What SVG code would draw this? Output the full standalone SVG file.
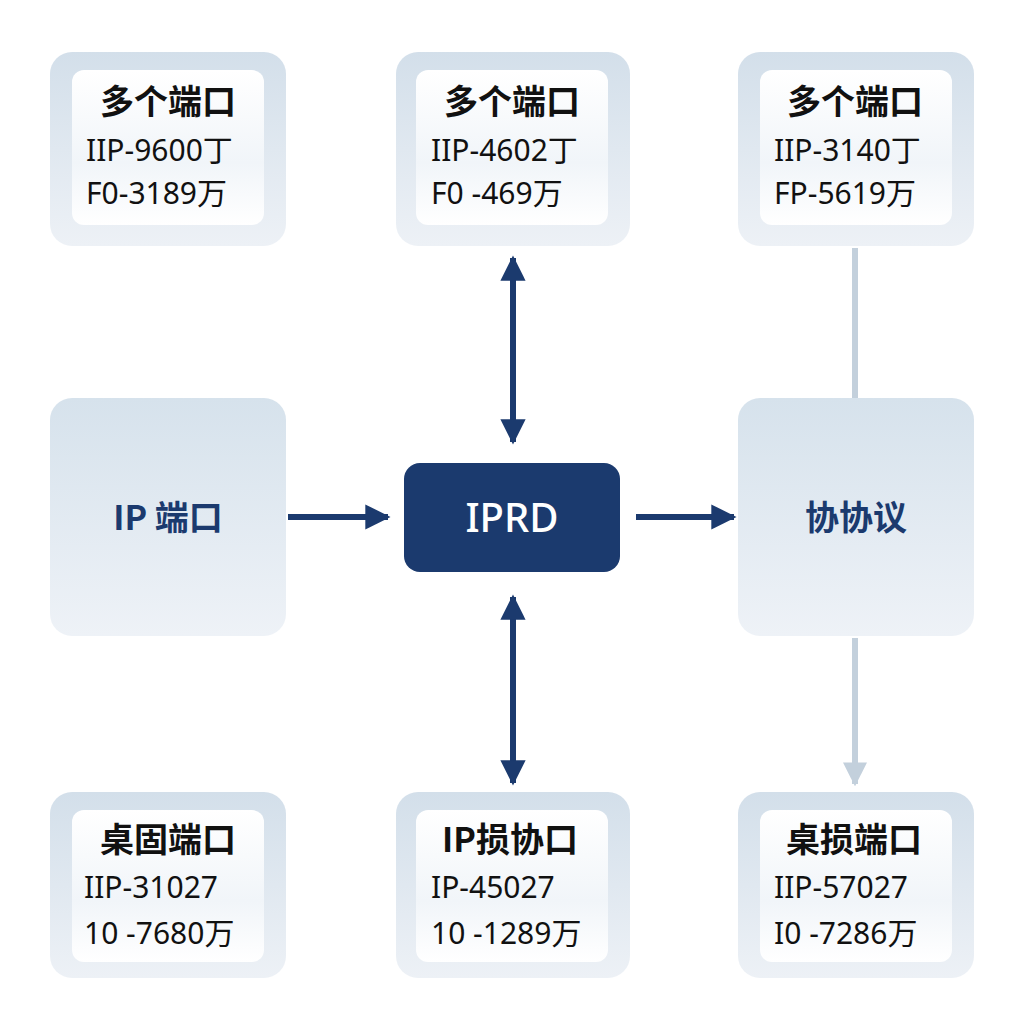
<svg xmlns="http://www.w3.org/2000/svg" width="1024" height="1024" viewBox="0 0 1024 1024">
<defs>
<linearGradient id="og" x1="0" y1="0" x2="0" y2="1"><stop offset="0" stop-color="#d3dfea"/><stop offset="1" stop-color="#edf1f6"/></linearGradient>
<linearGradient id="ig" x1="0" y1="0" x2="0" y2="1"><stop offset="0" stop-color="#ffffff"/><stop offset="0.6" stop-color="#f1f5f9"/><stop offset="1" stop-color="#ffffff"/></linearGradient>
<linearGradient id="mg" x1="0" y1="0" x2="0" y2="1"><stop offset="0" stop-color="#d6e2ec"/><stop offset="1" stop-color="#eef2f7"/></linearGradient>
<marker id="ah" viewBox="0 0 10 10" refX="9" refY="5" markerWidth="4.2" markerHeight="4.2" orient="auto-start-reverse" markerUnits="strokeWidth"><path d="M0,0 L10,5 L0,10 z" fill="#1b3a6e"/></marker>
<marker id="ag" viewBox="0 0 10 10" refX="9" refY="5" markerWidth="4" markerHeight="4" orient="auto" markerUnits="strokeWidth"><path d="M0,0 L10,5 L0,10 z" fill="#c3d0dc"/></marker>
</defs>
<style>
.o{fill:url(#og)}
.i{fill:url(#ig)}
.t{font-family:"Noto Sans CJK SC","Noto Sans",sans-serif;font-weight:700;font-size:34px;fill:#111;text-anchor:middle}
.l{font-family:"Noto Sans","Noto Sans CJK SC",sans-serif;font-size:30px;fill:#111}
.m{font-family:"Noto Sans CJK SC","Noto Sans",sans-serif;font-weight:700;font-size:34px;fill:#1b3a6e;text-anchor:middle}
</style>
<rect width="1024" height="1024" fill="#fff"/>
<g id="connectors" fill="none">
<path d="M288,517 H388" stroke="#1b3a6e" stroke-width="6" marker-end="url(#ah)"/>
<path d="M636,517 H734" stroke="#1b3a6e" stroke-width="6" marker-end="url(#ah)"/>
<path d="M513,258 V442" stroke="#1b3a6e" stroke-width="6" marker-start="url(#ah)" marker-end="url(#ah)"/>
<path d="M513,597 V783" stroke="#1b3a6e" stroke-width="6" marker-start="url(#ah)" marker-end="url(#ah)"/>
<path d="M855,248 V398" stroke="#c3d0dc" stroke-width="6"/>
<path d="M855,638 V784" stroke="#c3d0dc" stroke-width="6" marker-end="url(#ag)"/>
</g>
<g id="n1"><rect class="o" x="50" y="52" width="236" height="194" rx="22"/><rect class="i" x="72" y="70" width="192" height="155" rx="12"/>
<text class="t" x="168" y="114">多个端口</text><text class="l" x="86" y="161">IIP-9600丁</text><text class="l" x="86" y="204">F0-3189万</text></g>
<g id="n2"><rect class="o" x="396" y="52" width="234" height="194" rx="22"/><rect class="i" x="416" y="70" width="192" height="155" rx="12"/>
<text class="t" x="512" y="114">多个端口</text><text class="l" x="431" y="161">IIP-4602丁</text><text class="l" x="431" y="204">F0 -469万</text></g>
<g id="n3"><rect class="o" x="738" y="52" width="236" height="194" rx="22"/><rect class="i" x="760" y="70" width="192" height="155" rx="12"/>
<text class="t" x="855" y="114">多个端口</text><text class="l" x="774" y="161">IIP-3140丁</text><text class="l" x="774" y="204">FP-5619万</text></g>
<g id="n4"><rect fill="url(#mg)" x="50" y="398" width="236" height="238" rx="22"/><text class="m" x="168" y="530">IP 端口</text></g>
<g id="n5"><rect fill="#1b3a6e" x="404" y="463" width="216" height="109" rx="16"/><text x="512" y="532" font-family="Noto Sans,sans-serif" font-weight="500" font-size="40" fill="#fff" text-anchor="middle">IPRD</text></g>
<g id="n6"><rect fill="url(#mg)" x="738" y="398" width="236" height="238" rx="22"/><text class="m" x="856" y="530">协协议</text></g>
<g id="n7"><rect class="o" x="50" y="792" width="236" height="186" rx="22"/><rect class="i" x="72" y="810" width="192" height="152" rx="12"/>
<text class="t" x="168" y="852">桌固端口</text><text class="l" x="84" y="898">IIP-31027</text><text class="l" x="84" y="944">10 -7680万</text></g>
<g id="n8"><rect class="o" x="396" y="792" width="234" height="186" rx="22"/><rect class="i" x="416" y="810" width="192" height="152" rx="12"/>
<text class="t" x="510" y="852">IP损协口</text><text class="l" x="431" y="898">IP-45027</text><text class="l" x="431" y="944">10 -1289万</text></g>
<g id="n9"><rect class="o" x="738" y="792" width="236" height="186" rx="22"/><rect class="i" x="760" y="810" width="192" height="152" rx="12"/>
<text class="t" x="854" y="852">桌损端口</text><text class="l" x="774" y="898">IIP-57027</text><text class="l" x="774" y="944">I0 -7286万</text></g>
</svg>
